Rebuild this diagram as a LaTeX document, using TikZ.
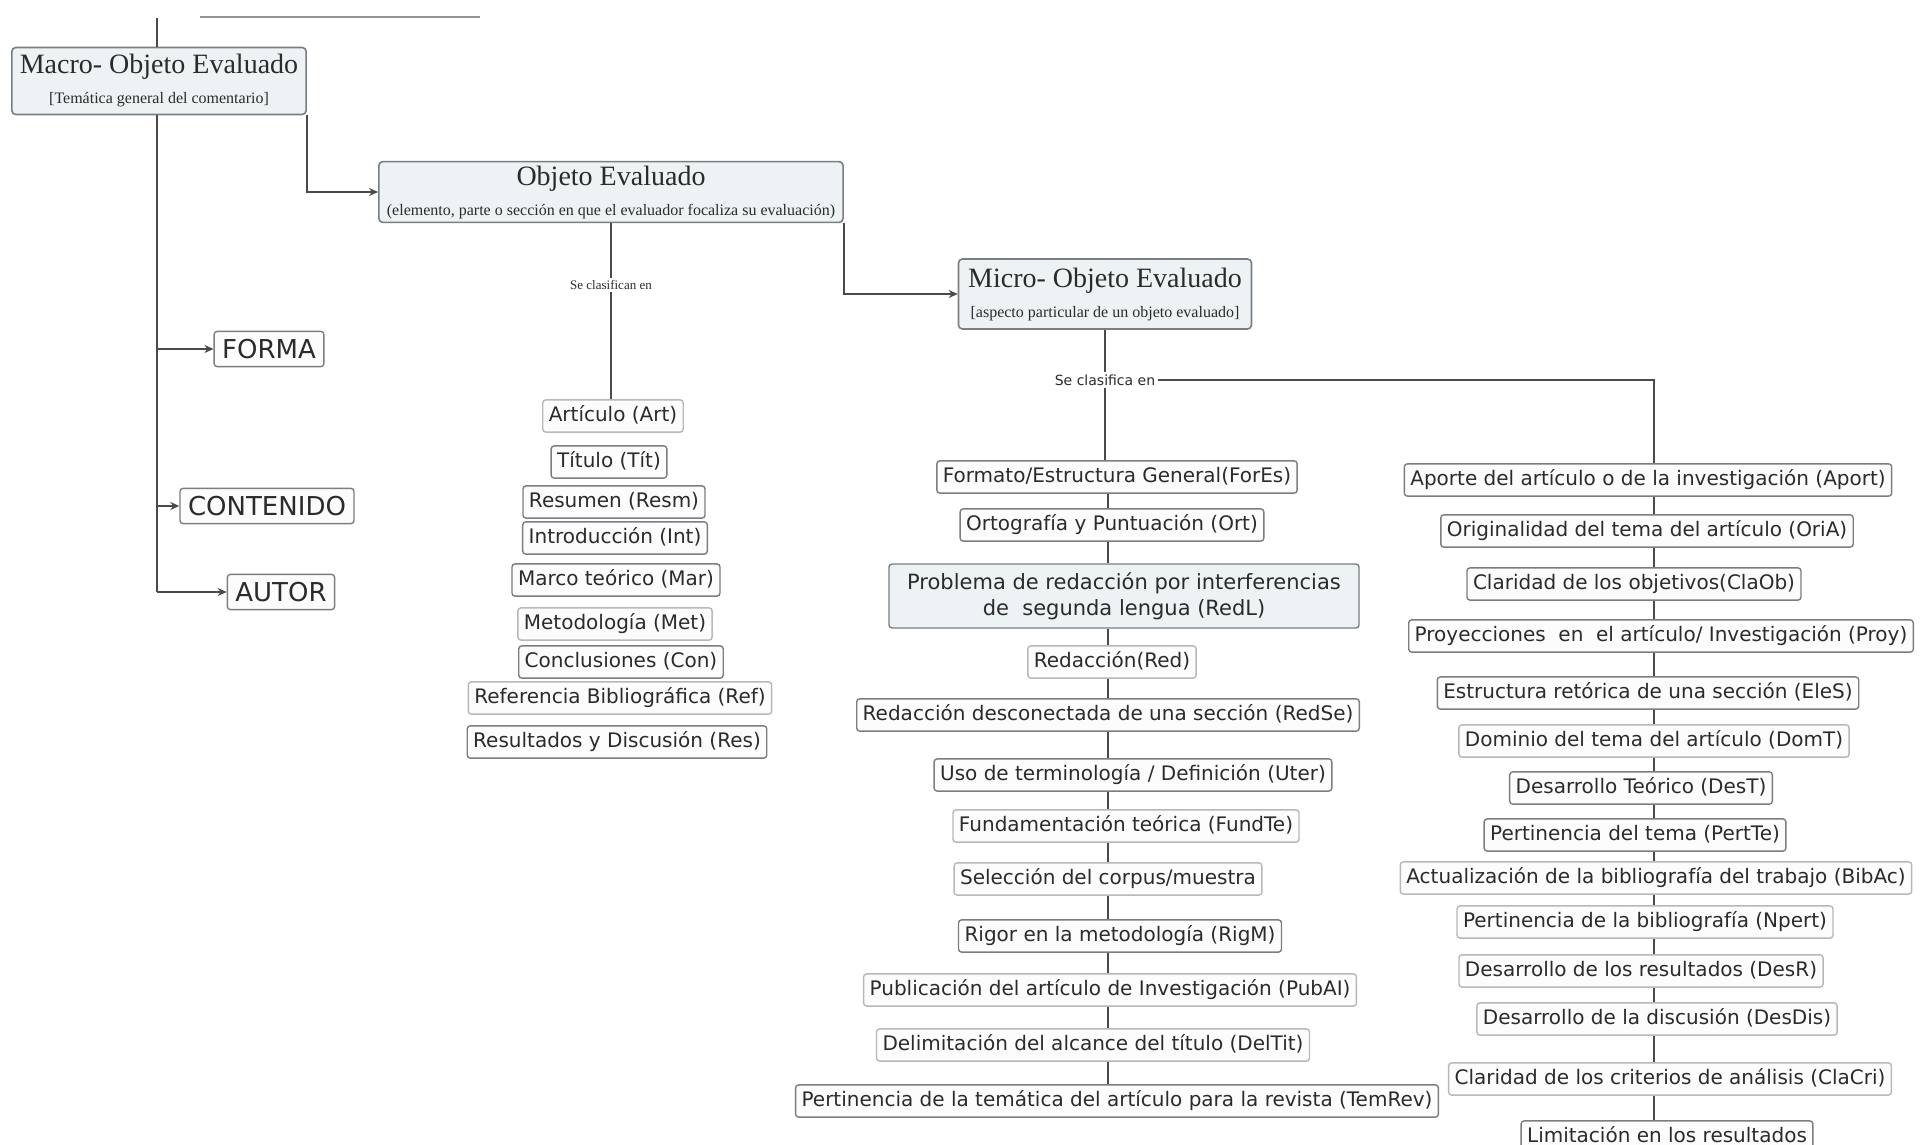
\documentclass[tikz,border=0pt]{standalone}
\usepackage{fontspec}
\usepackage{xcolor}
\usepackage{tikz}
\usetikzlibrary{arrows.meta}
\newfontfamily\boxfont{DejaVu Sans}
\newfontfamily\titlefont{Liberation Serif}
\definecolor{bg}{HTML}{FFFFFF}
\definecolor{linegray}{HTML}{4A4A4A}
\definecolor{boxedge}{HTML}{7A7E82}
\definecolor{headfill}{HTML}{EDF2F5}
\definecolor{itemfill}{HTML}{FCFCFC}
\definecolor{ink}{HTML}{2B2B2B}
\tikzset{
  conn/.style={draw=linegray, line width=0.8pt},
  arr/.style={conn, -{Stealth[length=4.5pt,width=4pt]}},
  head/.style={draw=boxedge, fill=headfill, rounded corners=2pt, line width=0.8pt,
    align=center, text=ink, inner xsep=4pt, inner ysep=2pt,
    font=\titlefont\fontsize{14}{15}\selectfont},
  item/.style={draw=boxedge, fill=itemfill, rounded corners=1.5pt, line width=0.7pt,
    text=ink, inner xsep=3pt, inner ysep=3.3pt, text height=7.5pt, text depth=2pt,
    font=\boxfont\fontsize{10}{12}\selectfont},
  faint/.style={item, draw=boxedge!55},
  shade/.style={item, fill=headfill, align=center, text height=, text depth=,
    font=\boxfont\fontsize{10.5}{13}\selectfont},
  big/.style={item, inner xsep=4pt, text height=10pt, text depth=1pt,
    font=\boxfont\fontsize{13}{15}\selectfont},
  lab/.style={fill=bg, inner sep=1pt, text=ink, font=\boxfont\fontsize{7}{8}\selectfont},
  labs/.style={fill=bg, inner sep=1pt, text=ink, font=\titlefont\fontsize{6.5}{8}\selectfont},
}
\newcommand{\subline}[1]{{\fontsize{8}{10}\selectfont #1}}

\begin{document}
\begin{tikzpicture}[x=0.5pt, y=-0.5pt]
  \useasboundingbox (0,0) rectangle (1923,1145);
  \fill[bg] (0,0) rectangle (1923,1145);

  % main heads
  \node[head, minimum width=144pt, minimum height=33.5pt] (macro) at (159,81)
    {Macro- Objeto Evaluado\\\subline{[Temática general del comentario]}};
  \node[head, minimum width=232pt, minimum height=29pt] (obj) at (611,192)
    {Objeto Evaluado\\\subline{(elemento, parte o sección en que el evaluador focaliza su evaluación)}};
  \node[head, minimum width=146.5pt, minimum height=35pt] (micro) at (1105,294)
    {Micro- Objeto Evaluado\\\subline{[aspecto particular de un objeto evaluado]}};

  % left branch
  \node[big] (forma) at (269,349) {FORMA};
  \node[big] (contenido) at (267,506) {CONTENIDO};
  \node[big] (autor) at (281,592) {AUTOR};
  \coordinate (topin) at (157,18);
  \coordinate (mspine) at (157,592);
  \draw[conn] (topin) -- (macro.north -| topin);
  \draw[conn, draw=linegray!60] (200,17) -- (480,17);
  \draw[conn] (macro.south -| mspine) -- (mspine);
  \draw[arr] (forma.west -| mspine) -- (forma.west);
  \draw[arr] (contenido.west -| mspine) -- (contenido.west);
  \draw[arr] (autor.west -| mspine) -- (autor.west);
  \draw[arr] (macro.south east) |- (obj.west);
  \draw[arr] (obj.south east) |- (micro.west);

  % column: articulo
  \node[labs] (sc1) at (611,285) {Se clasifican en};
  \node[faint] (art) at (613,416) {Artículo (Art)};
  \node[item] (tit) at (609,462) {Título (Tít)};
  \node[item] (resm) at (614,502) {Resumen (Resm)};
  \node[item] (intr) at (615,538) {Introducción (Int)};
  \node[item] (mar) at (616,580) {Marco teórico (Mar)};
  \node[faint] (met) at (615,624) {Metodología (Met)};
  \node[item] (con) at (621,662) {Conclusiones (Con)};
  \node[faint] (ref) at (620,698) {Referencia Bibliográfica (Ref)};
  \node[item] (res) at (617,742) {Resultados y Discusión (Res)};
  \draw[conn] (obj.south) -- (sc1.north);
  \draw[conn] (sc1.south) -- (art.north -| sc1.south);

  % column: micro, middle
  \node[lab] (sc2) at (1105,380) {Se clasifica en};
  \coordinate (spine2) at (1108,0);
  \node[item] (fores) at (1117,477) {Formato/Estructura General(ForEs)};
  \node[item] (ort) at (1112,525) {Ortografía y Puntuación (Ort)};
  \node[shade, minimum width=235pt, minimum height=32pt] (redl) at (1124,596)
    {Problema de redacción por interferencias\\de\ \ segunda lengua (RedL)};
  \node[faint] (red) at (1112,662) {Redacción(Red)};
  \node[item] (redse) at (1108,715) {Redacción desconectada de una sección (RedSe)};
  \node[item] (uter) at (1133,775) {Uso de terminología / Definición (Uter)};
  \node[faint] (fundte) at (1126,826) {Fundamentación teórica (FundTe)};
  \node[faint] (selc) at (1108,879) {Selección del corpus/muestra};
  \node[item] (rigm) at (1120,936) {Rigor en la metodología (RigM)};
  \node[faint] (pubai) at (1110,990) {Publicación del artículo de Investigación (PubAI)};
  \node[faint] (deltit) at (1093,1045) {Delimitación del alcance del título (DelTit)};
  \node[item] (temrev) at (1117,1101) {Pertinencia de la temática del artículo para la revista (TemRev)};
  \draw[conn] (micro.south) -- (sc2.north);
  \draw[conn] (sc2.south) -- (fores.north -| sc2.south);
  \foreach \a/\b in {fores/ort, ort/redl, redl/red, red/redse, redse/uter, uter/fundte,
      fundte/selc, selc/rigm, rigm/pubai, pubai/deltit, deltit/temrev}
    \draw[conn] (\a.south -| spine2) -- (\b.north -| spine2);

  % column: micro, right
  \coordinate (spine3) at (1654,0);
  \node[item] (aport) at (1648,480) {Aporte del artículo o de la investigación (Aport)};
  \node[item] (oria) at (1647,531) {Originalidad del tema del artículo (OriA)};
  \node[item] (claob) at (1634,584) {Claridad de los objetivos(ClaOb)};
  \node[item] (proy) at (1661,636) {Proyecciones\ \ en\ \ el artículo/ Investigación (Proy)};
  \node[item] (eles) at (1648,693) {Estructura retórica de una sección (EleS)};
  \node[faint] (domt) at (1654,741) {Dominio del tema del artículo (DomT)};
  \node[item] (dest) at (1641,788) {Desarrollo Teórico (DesT)};
  \node[item] (pertte) at (1635,835) {Pertinencia del tema (PertTe)};
  \node[faint] (bibac) at (1656,878) {Actualización de la bibliografía del trabajo (BibAc)};
  \node[faint] (npert) at (1645,922) {Pertinencia de la bibliografía (Npert)};
  \node[faint] (desr) at (1641,971) {Desarrollo de los resultados (DesR)};
  \node[faint] (desdis) at (1657,1019) {Desarrollo de la discusión (DesDis)};
  \node[faint] (clacri) at (1670,1079) {Claridad de los criterios de análisis (ClaCri)};
  \node[item] (lim) at (1667,1137) {Limitación en los resultados};
  \draw[conn] (sc2.east) -| (aport.north -| spine3);
  \foreach \a/\b in {aport/oria, oria/claob, claob/proy, proy/eles, eles/domt, domt/dest,
      dest/pertte, pertte/bibac, bibac/npert, npert/desr, desr/desdis, desdis/clacri, clacri/lim}
    \draw[conn] (\a.south -| spine3) -- (\b.north -| spine3);
\end{tikzpicture}
\end{document}
